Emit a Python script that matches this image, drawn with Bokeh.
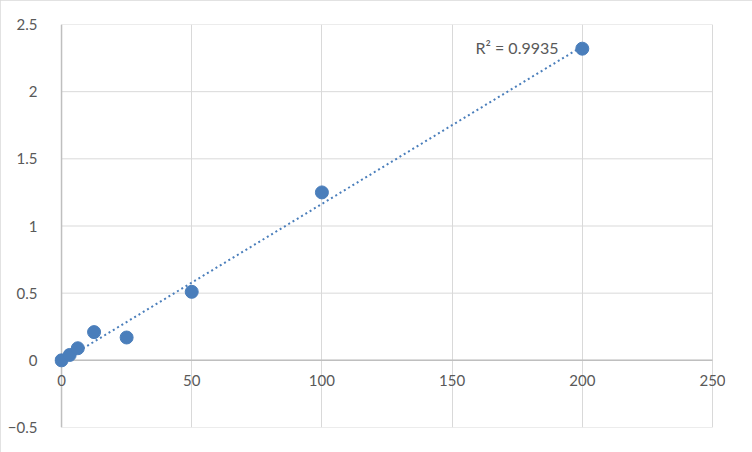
import numpy as np
from bokeh.plotting import figure
from bokeh.models import Range1d, FixedTicker, Label
from bokeh.embed import file_html
from bokeh.resources import INLINE

conc = [0, 3.125, 6.25, 12.5, 25, 50, 100, 200]
od = [0.0, 0.04, 0.09, 0.21, 0.17, 0.51, 1.25, 2.32]
x_ticks = [0, 50, 100, 150, 200, 250]
y_ticks = [-0.5, 0, 0.5, 1, 1.5, 2, 2.5]
r2_text = "R² = 0.9935"

FONT = "Lato"
GREY = "#595959"
BLUE = "#4a7ebb"
GRID = "#d9d9d9"

p = figure(width=752, height=452, output_backend="svg", toolbar_location=None,
           x_range=Range1d(-2.7, 255), y_range=Range1d(-0.5, 2.5),
           min_border_left=54, min_border_right=27, min_border_top=24, min_border_bottom=25)
p.outline_line_color = None
p.background_fill_color = "white"
p.border_fill_color = "white"
p.styles = {"outline": "1px solid #d9d9d9", "outline-offset": "-1px"}

p.xaxis.visible = False
p.xgrid.ticker = FixedTicker(ticks=x_ticks)
p.xgrid.grid_line_color = GRID
p.ygrid.visible = False

# horizontal gridlines spanning only 0..250
p.segment(x0=[x_ticks[0]] * len(y_ticks), x1=[x_ticks[-1]] * len(y_ticks),
          y0=y_ticks, y1=y_ticks, line_color=GRID, line_width=1)

p.yaxis.ticker = FixedTicker(ticks=y_ticks)
p.yaxis.axis_line_color = None
p.yaxis.major_tick_line_color = None
p.yaxis.minor_tick_line_color = None
p.yaxis.major_label_standoff = 11
p.yaxis.major_label_text_font = FONT
p.yaxis.major_label_text_font_size = "15px"
p.yaxis.major_label_text_color = GREY

p.line(x=[x_ticks[0], x_ticks[-1]], y=[0, 0], line_color="#bfbfbf", line_width=1.5)
p.line(x=[0, 0], y=[y_ticks[0], y_ticks[-1]], line_color="#bfbfbf", line_width=1.5)

for v in x_ticks:
    p.add_layout(Label(x=v, y=0, text=str(v), text_align="center", text_baseline="top",
                       y_offset=-15, text_font=FONT, text_font_size="15px", text_color=GREY))

xa = np.array(conc)
ya = np.array(od)
slope, intercept = np.polyfit(xa, ya, 1)
tx = [min(conc), max(conc)]
ty = [intercept + slope * v for v in tx]
p.line(x=tx, y=ty, line_color=BLUE, line_width=2, line_dash="2 3")

p.scatter(x=conc, y=od, size=13, fill_color=BLUE, line_color=BLUE)

p.add_layout(Label(x=159, y=2.33, text=r2_text, text_font=FONT, text_font_size="16px",
                   text_color=GREY, text_baseline="middle", text_align="left"))

open("out.html", "w").write(file_html(p, INLINE))
